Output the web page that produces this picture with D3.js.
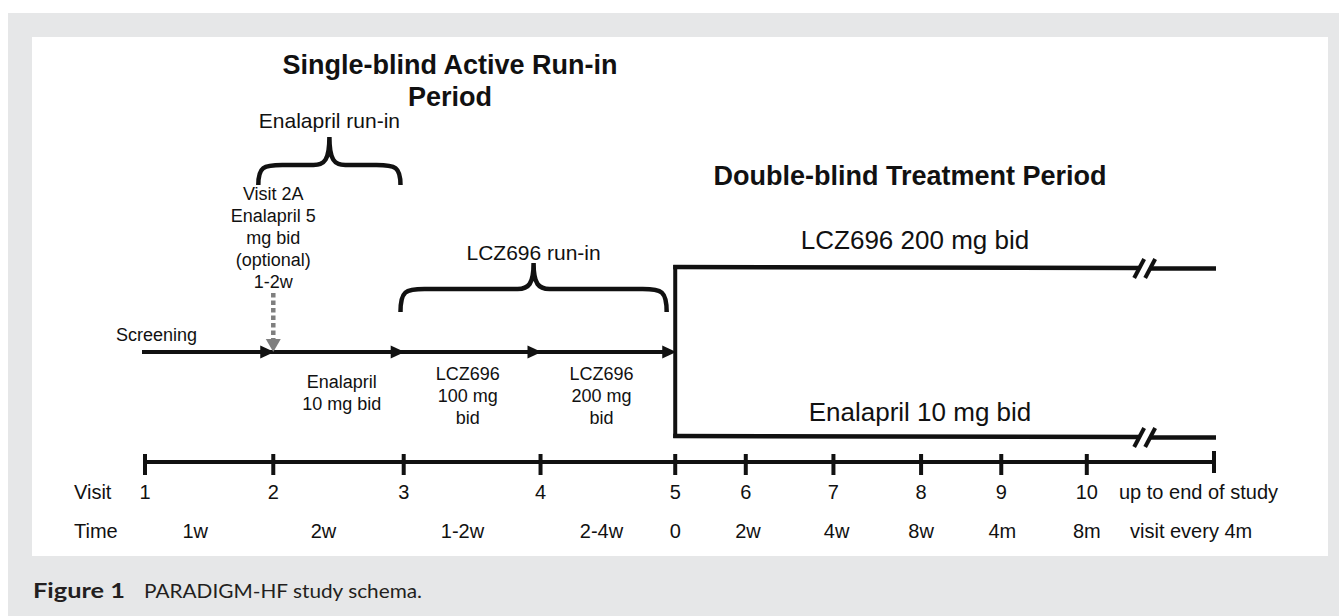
<!DOCTYPE html>
<html><head><meta charset="utf-8">
<script src="https://cdn.jsdelivr.net/npm/d3@7"></script>
<style>html,body{margin:0;padding:0;background:#fff;}svg{display:block;}</style>
</head><body>
<script>
// ---- data ----
const visitLabels = ["1","2","3","4","5","6","7","8","9","10"];
const visitPos    = [0, 12.0, 24.2, 37.0, 49.6, 56.2, 64.4, 72.6, 80.1, 88.1]; // schematic position (0-100)
const endPos = 100;
const endVisitLabel = "up to end of study";
const timeLabels = ["1w","2w","1-2w","2-4w","0","2w","4w","8w","4m","8m"];
const timePos    = [4.7, 16.7, 29.7, 42.7, 49.6, 56.4, 64.7, 72.6, 80.2, 88.1];
const endTimeLabel = "visit every 4m";
const runInArrows = [12.0, 24.2, 37.0, 49.6]; // arrow heads on run-in line
const segLabels = [
  {lines:["Enalapril","10 mg bid"], pos:18.4, row:1},
  {lines:["LCZ696","100 mg","bid"], pos:30.2, row:0},
  {lines:["LCZ696","200 mg","bid"], pos:42.7, row:0}
];
const visit2A = ["Visit 2A","Enalapril 5","mg bid","(optional)","1-2w"];
const visit2APos = 12.0;
const arms = ["LCZ696 200 mg bid","Enalapril 10 mg bid"];
const titleRunIn = ["Single-blind Active Run-in","Period"];
const titleDouble = "Double-blind Treatment Period";
const braces = [{from:10.6, to:23.9, label:"Enalapril run-in"},{from:23.9, to:48.8, label:"LCZ696 run-in"}];
const breakPos = 93.0;

const W=1339,H=616;
const svg=d3.select("body").append("svg").attr("width",W).attr("height",H);
const FONT="'Liberation Sans', Arial, sans-serif";
const INK="#111";

// backgrounds
svg.append("rect").attr("x",8).attr("y",13).attr("width",W-8).attr("height",H-13).attr("fill","#e6e7e8");
svg.append("rect").attr("x",32).attr("y",37).attr("width",1296).attr("height",519).attr("fill","#fff");

const x=d3.scaleLinear().domain([0,100]).range([145,1214]);
const yLine=352, yAxis=462, yTop=267, yBot=436;

const g=svg.append("g").attr("font-family",FONT).attr("fill",INK);
function txt(t,xx,yy,size,anchor,weight){
  return g.append("text").attr("x",xx).attr("y",yy).attr("font-size",size)
    .attr("text-anchor",anchor||"middle").attr("font-weight",weight||"normal").text(t);
}

// axis
const ticks=visitPos.concat([endPos]);
g.append("line").attr("x1",x(0)).attr("x2",x(endPos)).attr("y1",yAxis).attr("y2",yAxis)
 .attr("stroke",INK).attr("stroke-width",4);
g.selectAll(".tk").data(ticks).join("line").attr("x1",d=>x(d)).attr("x2",d=>x(d))
 .attr("y1",(d,i)=>i===ticks.length-1?451:454).attr("y2",(d,i)=>i===ticks.length-1?473:475)
 .attr("stroke",INK).attr("stroke-width",4);
txt("Visit",74,499,20,"start");
txt("Time",74,538,20,"start");
g.selectAll(".vl").data(visitLabels).join("text").attr("x",(d,i)=>x(visitPos[i])).attr("y",499)
 .attr("text-anchor","middle").attr("font-size",20).text(d=>d);
txt(endVisitLabel,1119,499,20,"start");
g.selectAll(".tl").data(timeLabels).join("text").attr("x",(d,i)=>x(timePos[i])).attr("y",538)
 .attr("text-anchor","middle").attr("font-size",20).text(d=>d);
txt(endTimeLabel,1130,538,20,"start");

// run-in line with arrows
g.append("line").attr("x1",142).attr("x2",x(49.6)-6).attr("y1",yLine).attr("y2",yLine)
 .attr("stroke",INK).attr("stroke-width",4);
g.selectAll(".ah").data(runInArrows).join("path")
 .attr("d",d=>`M${x(d)+1},${yLine} l-14,-6.5 l0,13 z`).attr("fill",INK);
txt("Screening",116,341,18,"start");

// dashed optional arrow
g.append("line").attr("x1",x(visit2APos)).attr("x2",x(visit2APos)).attr("y1",293).attr("y2",341)
 .attr("stroke","#7f7f7f").attr("stroke-width",4.5).attr("stroke-dasharray","4.5,3");
g.append("path").attr("d",`M${x(visit2APos)},${yLine} l-7.5,-13 l15,0 z`).attr("fill","#7f7f7f");
visit2A.forEach((d,i)=>txt(d,x(visit2APos),200+i*22,18));

// segment labels
segLabels.forEach(s=>{
  s.lines.forEach((d,i)=>txt(d,x(s.pos),(s.row?388:380)+i*22,18));
});

// braces
function brace(x0,x1,yEnd,yTip,yh){
  const m=(x0+x1)/2;
  return `M${x0},${yEnd} C${x0},${yh+2} ${x0+5},${yh} ${x0+24},${yh} L${m-16},${yh} C${m-5},${yh} ${m},${yh-5} ${m},${yTip}`+
         ` C${m},${yh-5} ${m+5},${yh} ${m+16},${yh} L${x1-24},${yh} C${x1-5},${yh} ${x1},${yh+2} ${x1},${yEnd}`;
}
const bY=[[185,137,165],[312,263,289]];
braces.forEach((b,i)=>{
  g.append("path").attr("d",brace(x(b.from),x(b.to),bY[i][0],bY[i][1],bY[i][2]))
   .attr("fill","none").attr("stroke",INK).attr("stroke-width",4.5);
});
txt(braces[0].label,(x(braces[0].from)+x(braces[0].to))/2,128,21);
txt(braces[1].label,(x(braces[1].from)+x(braces[1].to))/2,260,21);

// titles
txt(titleRunIn[0],450,74,27,"middle","bold");
txt(titleRunIn[1],450,106,27,"middle","bold");
txt(titleDouble,910,185,27,"middle","bold");

// treatment arms
const xs=x(49.6), xe=x(endPos), xb=x(breakPos);
g.append("path").attr("d",`M${xs},${yTop-2} L${xs},${yBot+2}`).attr("stroke",INK).attr("stroke-width",4).attr("fill","none");
[yTop,yBot].forEach((yy,i)=>{
  g.append("line").attr("x1",xs-2).attr("x2",xb).attr("y1",yy).attr("y2",yy+1).attr("stroke",INK).attr("stroke-width",4.5);
  g.append("line").attr("x1",xb+11).attr("x2",xe+2).attr("y1",yy+1.5).attr("y2",yy+1.5).attr("stroke",INK).attr("stroke-width",4.5);
  [0,11].forEach(dx=>g.append("line").attr("x1",xb+dx-5).attr("x2",xb+dx+5).attr("y1",yy+11).attr("y2",yy-8)
     .attr("stroke",INK).attr("stroke-width",4));
});
txt(arms[0],915,249,26);
txt(arms[1],920,421,26);

// caption
const cap=svg.append("text").attr("x",33).attr("y",598).attr("font-family","Lato, 'Open Sans', sans-serif").attr("font-size",20).attr("fill","#231f20");
cap.append("tspan").attr("font-weight","bold").attr("textLength",92).attr("lengthAdjust","spacingAndGlyphs").text("Figure 1");
cap.append("tspan").attr("x",144).attr("textLength",278).attr("lengthAdjust","spacingAndGlyphs").text("PARADIGM-HF study schema.");
</script>
</body></html>
